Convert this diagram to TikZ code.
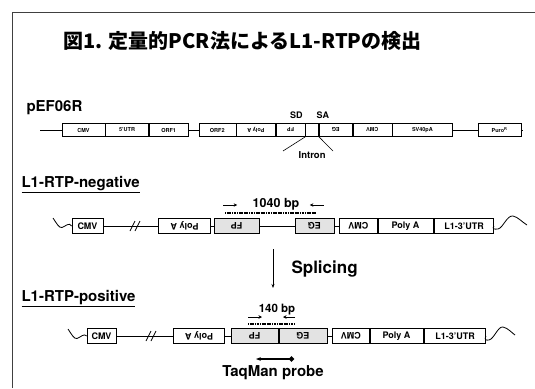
\documentclass[tikz,border=0pt]{standalone}
\usepackage{fontspec}
\usepackage{graphicx}
\setsansfont{TeX Gyre Heros}
\newfontfamily\jpfont{Noto Sans CJK JP Bold}
\usetikzlibrary{positioning,arrows.meta}

\newcommand{\flipped}[1]{\rotatebox[origin=c]{180}{#1}}

\begin{document}
\begin{tikzpicture}[
    x=1pt, y=-1pt,
    font=\sffamily\bfseries,
    seg/.style={
        draw,
        line width=0.6pt,
        inner sep=0pt,
        minimum height=15pt,
        font=\sffamily\bfseries\fontsize{9}{10}\selectfont
    },
    small seg/.style={
        seg,
        minimum height=13pt,
        font=\sffamily\bfseries\fontsize{5.5}{6}\selectfont
    },
    gene/.style={seg, fill=gray!22},
    lnk/.style={line width=0.8pt},
    primer/.style={-{Stealth[length=3.5pt, width=3.5pt]}, line width=0.7pt},
    amplicon/.style={line width=2pt, dash pattern=on 1.2pt off 0.5pt},
    lbl/.style={font=\sffamily\bfseries\fontsize{15}{18}\selectfont}
]
    \useasboundingbox (0,0) rectangle (535,388);
    %% frame
    \coordinate (frBL) at (12.5,388);
    \coordinate (frTL) at (12.5,12.5);
    \coordinate (frTR) at (535,12.5);
    \draw[line width=1.2pt, black!75] (frBL) -- (frTL) -- (frTR);
    %% title
    \node[anchor=west] (title) at (60,41)
        {\jpfont\fontsize{20}{24}\selectfont 図1. 定量的PCR法によるL1-RTPの検出};

    %% pEF06R
    \node[lbl, anchor=west] (pef) at (23,108) {pEF06R};
    \node[small seg, minimum width=43pt] (cmvA) at (83.5,130) {CMV};
    \node[small seg, minimum width=43pt, right=0pt of cmvA] (utrA) {5'UTR};
    \node[small seg, minimum width=39pt, right=0pt of utrA] (orfA1) {ORF1};
    \node[small seg, minimum width=37pt, right=10pt of orfA1] (orfA2) {ORF2};
    \node[small seg, minimum width=39pt, right=0pt of orfA2] (paA) {\flipped{Poly A}};
    \node[small seg, minimum width=29pt, right=0pt of paA] (fpA) {\flipped{FP}};
    \node[small seg, minimum width=13pt, right=0pt of fpA] (intA) {};
    \node[small seg, minimum width=33pt, right=0pt of intA] (egA) {\flipped{EG}};
    \node[small seg, minimum width=39pt, right=0pt of egA] (cmvA2) {\flipped{CMV}};
    \node[small seg, minimum width=60pt, right=0pt of cmvA2] (svA) {SV40pA};
    \node[small seg, minimum width=43pt, right=25pt of svA] (puroA) {Puro\textsuperscript{R}};
    \coordinate (endA1) at (40,130);
    \coordinate (endA2) at (523,130);
    \draw[lnk] (endA1) -- (cmvA);
    \draw[lnk] (orfA1) -- (orfA2);
    \draw[lnk] (svA) -- (puroA);
    \draw[lnk] (puroA) -- (endA2);
    %% intron
    \node[font=\sffamily\bfseries\fontsize{9}{10}\selectfont, above=1pt of intA.north west, xshift=-9pt] (sd) {SD};
    \node[font=\sffamily\bfseries\fontsize{9}{10}\selectfont, above=1pt of intA.north east, xshift=4pt] (sa) {SA};
    \coordinate (inL) at (283,151);
    \coordinate (inR) at (333,151);
    \draw[line width=0.6pt] (intA.south west) -- (inL);
    \draw[line width=0.6pt] (intA.south east) -- (inR);
    \node[font=\sffamily\bfseries\fontsize{9.5}{11}\selectfont, below=11pt of intA] (intron) {Intron};

    %% L1-RTP-negative
    \node[lbl, anchor=west] (neg) at (18,185) {\underline{L1-RTP-negative}};
    \node[seg, minimum width=31pt] (cmvB) at (87.5,226) {CMV};
    \node[seg, minimum width=52pt, right=55pt of cmvB] (paB) {\flipped{Poly A}};
    \node[gene, minimum width=45pt, right=3pt of paB] (fpB) {\flipped{FP}};
    \node[gene, minimum width=39pt, right=35pt of fpB] (egB) {\flipped{EG}};
    \node[seg, minimum width=38pt, right=5pt of egB] (cmvB2) {\flipped{CMV}};
    \node[seg, minimum width=55pt, right=0pt of cmvB2] (pbB) {Poly A};
    \node[seg, minimum width=59pt, right=1pt of pbB] (utrB) {L1-3'UTR};
    \draw[lnk] (cmvB) -- (paB);
    \draw[lnk] (paB) -- (fpB);
    \draw[lnk] (fpB) -- (egB);
    \draw[lnk] (egB) -- (cmvB2);
    \coordinate (brkB) at (134,226);
    \draw[lnk] (brkB) ++(-4,5) -- ++(5,-10);
    \draw[lnk] (brkB) ++(1,5) -- ++(5,-10);
    \coordinate (vB) at (53,218);
    \draw[lnk] (vB) .. controls (57,224) and (59,228) .. (62,227.5)
        .. controls (66,226) and (69,222) .. (cmvB.west);
    \coordinate (wB) at (527,225);
    \draw[lnk] (utrB.east) .. controls (492,229) and (494,229.5) .. (498,229)
        .. controls (503,228) and (507,215) .. (513,216)
        .. controls (518,217) and (522,222) .. (wB);
    %% primers 1040 bp
    \node[font=\sffamily\bfseries\fontsize{12.5}{14}\selectfont] (bpB) at (276,204) {1040 bp};
    \draw[primer] ([shift={(-26,1)}]bpB.west) -- ([shift={(-12,1)}]bpB.west);
    \draw[primer] ([shift={(21,1)}]bpB.east) -- ([shift={(7,1)}]bpB.east);
    \coordinate (ampB1) at (225,213);
    \coordinate (ampB2) at (316,213);
    \draw[amplicon] (ampB1) -- (ampB2);

    %% splicing
    \coordinate (spl1) at (273,249);
    \coordinate (spl2) at (273,288);
    \draw[-{Stealth[length=4pt]}, line width=0.6pt] (spl1) -- (spl2);
    \node[font=\sffamily\bfseries\fontsize{17}{20}\selectfont, anchor=west] (splice) at (288,269) {Splicing};

    %% L1-RTP-positive
    \node[lbl, anchor=west] (pos) at (18,299) {\underline{L1-RTP-positive}};
    \node[seg, minimum width=29pt] (cmvC) at (101.5,336) {CMV};
    \node[seg, minimum width=51pt, right=57pt of cmvC] (paC) {\flipped{Poly A}};
    \node[gene, minimum width=47pt, right=6pt of paC] (fpC) {\flipped{FP}};
    \node[gene, minimum width=48pt, right=0pt of fpC] (egC) {\flipped{EG}};
    \node[seg, minimum width=37pt, right=5pt of egC] (cmvC2) {\flipped{CMV}};
    \node[seg, minimum width=53pt, right=0pt of cmvC2] (pbC) {Poly A};
    \node[seg, minimum width=61pt, right=1pt of pbC] (utrC) {L1-3'UTR};
    \draw[lnk] (cmvC) -- (paC);
    \draw[lnk] (paC) -- (fpC);
    \draw[lnk] (egC) -- (cmvC2);
    \coordinate (brkC) at (150,336);
    \draw[lnk] (brkC) ++(-4,5) -- ++(5,-10);
    \draw[lnk] (brkC) ++(1,5) -- ++(5,-10);
    \coordinate (vC) at (68,329);
    \draw[lnk] (vC) .. controls (72,335) and (74,339) .. (77,338.5)
        .. controls (81,337) and (84,333) .. (cmvC.west);
    \coordinate (wC) at (515,335);
    \draw[lnk] (utrC.east) .. controls (484,340) and (486,340.5) .. (489,340)
        .. controls (494,339) and (498,326) .. (503,327)
        .. controls (508,328) and (512,333) .. (wC);
    %% primers 140 bp
    \node[font=\sffamily\bfseries\fontsize{11.5}{13}\selectfont] (bpC) at (277,310) {140 bp};
    \coordinate (pc1) at (248,317);
    \coordinate (pc2) at (262,317);
    \coordinate (pc3) at (295,317);
    \coordinate (pc4) at (283,317);
    \draw[primer] (pc1) -- (pc2);
    \draw[primer] (pc3) -- (pc4);
    \coordinate (ampC1) at (248,323.5);
    \coordinate (ampC2) at (294,323.5);
    \draw[amplicon] (ampC1) -- (ampC2);
    %% TaqMan probe
    \coordinate (tq1) at (256,359);
    \coordinate (tq2) at (294,359);
    \draw[{Stealth[length=5pt]}-{Circle[length=5pt]}, line width=1.5pt] (tq1) -- (tq2);
    \node[lbl] (taq) at (273,373) {TaqMan probe};
\end{tikzpicture}
\end{document}
